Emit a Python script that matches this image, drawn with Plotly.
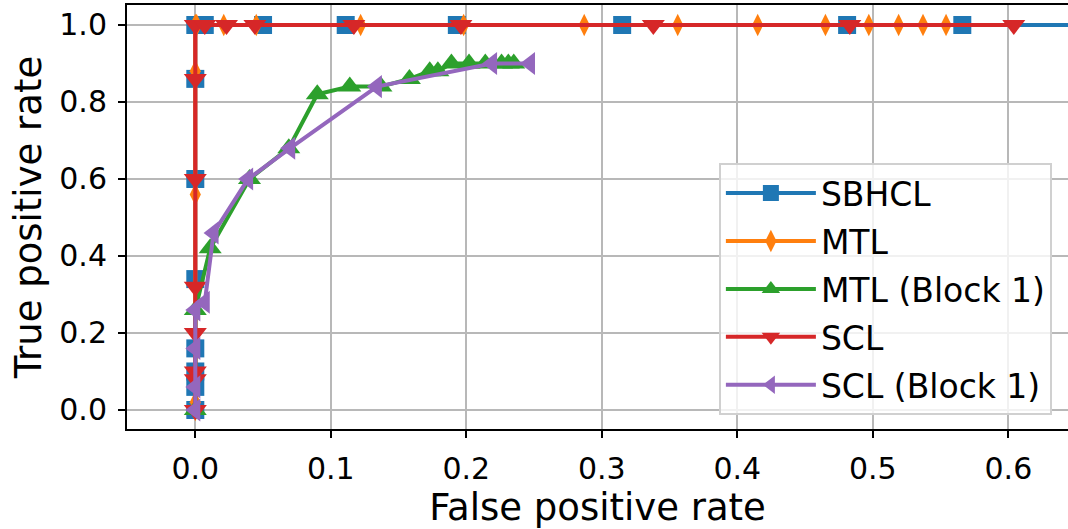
import plotly.graph_objects as go

# ---- data ----
sbhcl_fpr = [0.0, 0.0, 0.0, 0.0, 0.0, 0.0, 0.0, 0.0, 0.007, 0.050, 0.111, 0.193, 0.315, 0.481, 0.566, 1.0]
sbhcl_tpr = [0.0, 0.06, 0.10, 0.16, 0.34, 0.60, 0.86, 1.0, 1.0, 1.0, 1.0, 1.0, 1.0, 1.0, 1.0, 1.0]

mtl_fpr = [0.0, 0.0, 0.0, 0.0, 0.0, 0.001, 0.021, 0.045, 0.122, 0.198, 0.287, 0.356, 0.415, 0.465, 0.497, 0.519, 0.537, 0.554]
mtl_tpr = [0.0, 0.02, 0.56, 0.88, 1.0, 1.0, 1.0, 1.0, 1.0, 1.0, 1.0, 1.0, 1.0, 1.0, 1.0, 1.0, 1.0, 1.0]

mtl_b1_fpr = [0.0, 0.0, 0.011, 0.040, 0.069, 0.090, 0.114, 0.137, 0.158, 0.173, 0.179, 0.189, 0.202, 0.214, 0.226, 0.231, 0.235]
mtl_b1_tpr = [0.0, 0.26, 0.42, 0.60, 0.68, 0.82, 0.84, 0.84, 0.86, 0.88, 0.88, 0.90, 0.90, 0.90, 0.90, 0.90, 0.90]

scl_fpr = [0.0, 0.0, 0.0, 0.0, 0.0, 0.0, 0.0, 0.0, 0.007, 0.023, 0.044, 0.117, 0.196, 0.338, 0.483, 0.604]
scl_tpr = [0.0, 0.08, 0.10, 0.20, 0.32, 0.60, 0.86, 1.0, 1.0, 1.0, 1.0, 1.0, 1.0, 1.0, 1.0, 1.0]

scl_b1_fpr = [0.0, 0.0, 0.0, 0.0, 0.007, 0.0135, 0.039, 0.070, 0.134, 0.219, 0.247]
scl_b1_tpr = [0.0, 0.06, 0.16, 0.26, 0.28, 0.46, 0.60, 0.68, 0.84, 0.90, 0.90]

series = [
    ("SBHCL", sbhcl_fpr, sbhcl_tpr, "#1f77b4", "square", 18),
    ("MTL", mtl_fpr, mtl_tpr, "#ff7f0e", "diamond-tall", 16),
    ("MTL (Block 1)", mtl_b1_fpr, mtl_b1_tpr, "#2ca02c", "triangle-up", 20),
    ("SCL", scl_fpr, scl_tpr, "#d62728", "triangle-down", 20),
    ("SCL (Block 1)", scl_b1_fpr, scl_b1_tpr, "#9467bd", "triangle-left", 20),
]

FONT = "DejaVu Sans"

fig = go.Figure()
for i, (name, xs, ys, color, sym, size) in enumerate(series):
    fig.add_trace(go.Scatter(
        x=xs, y=ys, name=name, mode="lines+markers",
        legendgroup=f"g{i}",
        line=dict(color=color, width=4),
        marker=dict(symbol=sym, size=size, color=color, line=dict(width=0)),
        cliponaxis=True,
    ))

fig.update_layout(
    width=1068, height=529,
    margin=dict(l=127, r=0, t=5, b=100),
    paper_bgcolor="white", plot_bgcolor="white",
    font=dict(family=FONT, color="black", size=30),
    showlegend=True,
    legend=dict(
        x=0.629, y=0.627, xanchor="left", yanchor="top",
        bgcolor="rgba(255,255,255,0.8)", bordercolor="#d0d0d0", borderwidth=2,
        font=dict(family=FONT, size=33, color="black"),
        itemwidth=90, tracegroupgap=2,
    ),
)

fig.update_xaxes(
    range=[-0.0504, 0.644], tickvals=[0, 0.1, 0.2, 0.3, 0.4, 0.5, 0.6],
    tickformat=".1f", automargin=False,
    showgrid=True, gridcolor="#b8b8b8", gridwidth=2,
    zeroline=False,
    showline=True, linecolor="black", linewidth=2, mirror=True,
    ticks="outside", ticklen=7, tickwidth=2, tickcolor="black",
    ticklabelstandoff=5,
    tickfont=dict(family=FONT, size=30),
    title=dict(text="False positive rate", font=dict(family=FONT, size=37), standoff=1),
)
fig.update_yaxes(
    range=[-0.0494, 1.0519], tickvals=[0, 0.2, 0.4, 0.6, 0.8, 1.0],
    tickformat=".1f", automargin=False,
    showgrid=True, gridcolor="#b8b8b8", gridwidth=2,
    zeroline=False,
    showline=True, linecolor="black", linewidth=2, mirror=False,
    ticks="outside", ticklen=7, tickwidth=2, tickcolor="black",
    ticklabelstandoff=5,
    tickfont=dict(family=FONT, size=30),
    title=dict(text="True positive rate", font=dict(family=FONT, size=37), standoff=6),
)

fig.write_html("out.html", config={"displayModeBar": False},
               post_script="document.body.style.margin='0px';")
